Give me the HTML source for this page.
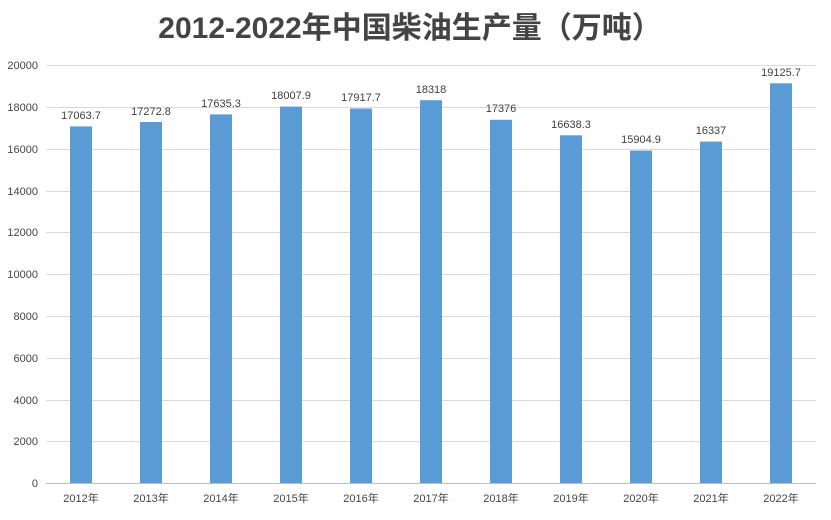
<!DOCTYPE html>
<html><head><meta charset="utf-8"><style>
body{margin:0;background:#fff}
svg text{font-family:"Liberation Sans","Noto Sans CJK SC",sans-serif}
</style></head><body>
<svg width="831" height="515" viewBox="0 0 831 515" xmlns="http://www.w3.org/2000/svg">
<rect width="831" height="515" fill="#fff"/>
<text x="410" y="38" text-anchor="middle" font-size="30" font-weight="bold" fill="#444">2012-2022年中国柴油生产量（万吨）</text>
<g id="grid" stroke="#d9d9d9" stroke-width="1">
<line x1="46" x2="816" y1="65.5" y2="65.5"/><line x1="46" x2="816" y1="107.5" y2="107.5"/><line x1="46" x2="816" y1="149.5" y2="149.5"/><line x1="46" x2="816" y1="191.5" y2="191.5"/><line x1="46" x2="816" y1="232.5" y2="232.5"/><line x1="46" x2="816" y1="274.5" y2="274.5"/><line x1="46" x2="816" y1="316.5" y2="316.5"/><line x1="46" x2="816" y1="358.5" y2="358.5"/><line x1="46" x2="816" y1="400.5" y2="400.5"/><line x1="46" x2="816" y1="441.5" y2="441.5"/>
</g>
<line x1="46" x2="816" y1="483.5" y2="483.5" stroke="#bfbfbf"/>
<g font-size="11" fill="#444" text-anchor="end">
<text x="38" y="69">20000</text><text x="38" y="111">18000</text><text x="38" y="153">16000</text><text x="38" y="195">14000</text><text x="38" y="236">12000</text><text x="38" y="278">10000</text><text x="38" y="320">8000</text><text x="38" y="362">6000</text><text x="38" y="404">4000</text><text x="38" y="445">2000</text><text x="38" y="487">0</text>
</g>
<g fill="#5b9bd5">
<rect x="70" y="126.4" width="22" height="356.6"/>
<rect x="140" y="122.0" width="22" height="361.0"/>
<rect x="210" y="114.4" width="22" height="368.6"/>
<rect x="280" y="106.6" width="22" height="376.4"/>
<rect x="350" y="108.5" width="22" height="374.5"/>
<rect x="420" y="100.2" width="22" height="382.8"/>
<rect x="490" y="119.8" width="22" height="363.2"/>
<rect x="560" y="135.3" width="22" height="347.7"/>
<rect x="630" y="150.6" width="22" height="332.4"/>
<rect x="700" y="141.6" width="22" height="341.4"/>
<rect x="770" y="83.3" width="22" height="399.7"/>
</g>
<g font-size="11" fill="#404040" text-anchor="middle">
<text x="81" y="119">17063.7</text><text x="151" y="115">17272.8</text><text x="221" y="107">17635.3</text><text x="291" y="99">18007.9</text><text x="361" y="101">17917.7</text><text x="431" y="93">18318</text><text x="501" y="112">17376</text><text x="571" y="128">16638.3</text><text x="641" y="143">15904.9</text><text x="711" y="134">16337</text><text x="781" y="76">19125.7</text>
</g>
<g font-size="11" fill="#444" text-anchor="middle">
<text x="81" y="502">2012年</text><text x="151" y="502">2013年</text><text x="221" y="502">2014年</text><text x="291" y="502">2015年</text><text x="361" y="502">2016年</text><text x="431" y="502">2017年</text><text x="501" y="502">2018年</text><text x="571" y="502">2019年</text><text x="641" y="502">2020年</text><text x="711" y="502">2021年</text><text x="781" y="502">2022年</text>
</g>
</svg>
</body></html>
